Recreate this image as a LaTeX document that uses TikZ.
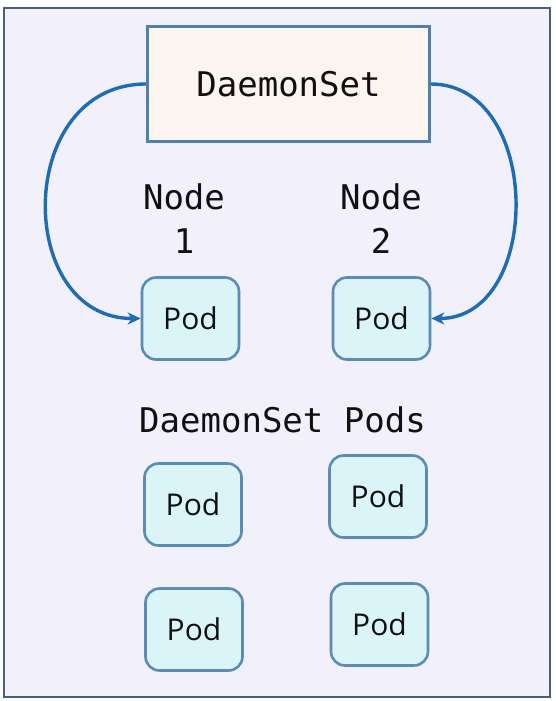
\documentclass[tikz,border=0pt]{standalone}
\usepackage{fontspec}
\usetikzlibrary{arrows.meta}
\newfontfamily\monof{DejaVu Sans Mono}
\newfontfamily\podf{Open Sans}
\definecolor{bgl}{HTML}{F2F1FB}
\definecolor{framec}{HTML}{4E5D72}
\definecolor{dsfill}{HTML}{FBF4EF}
\definecolor{dsborder}{HTML}{4F81B0}
\definecolor{podfill}{HTML}{DAF4F7}
\definecolor{podborder}{HTML}{5A8CB4}
\definecolor{arrowc}{HTML}{1C6DB4}
\definecolor{txt}{HTML}{101010}
\begin{document}
\begin{tikzpicture}[x=1pt,y=-1pt,
  podbox/.style={draw=podborder, line width=2.6pt, fill=podfill, rounded corners=14pt,
    minimum width=97pt, minimum height=82pt, inner sep=0pt, text=txt,
    font=\podf\fontsize{30}{34}\selectfont},
  dsbox/.style={draw=dsborder, line width=2.6pt, fill=dsfill,
    minimum width=282pt, minimum height=115pt, inner sep=0pt, text=txt,
    font=\monof\fontsize{34}{40}\selectfont},
  monolabel/.style={text=txt, align=center, inner sep=0pt,
    font=\monof\fontsize{34}{44}\selectfont},
  curvearrow/.style={draw=arrowc, line width=3.4pt,
    -{Stealth[length=13pt,width=12pt,inset=4pt]}}]
\useasboundingbox (0,0) rectangle (555,701);
\fill[white] (0,0) rectangle (555,701);
\draw[framec, line width=2.6pt, fill=bgl] (4,8) rectangle (550,697);

\node[dsbox] (ds) at (288.5,84) {DaemonSet};

\node[monolabel] (n1) at (184,219) {Node\\1};
\node[monolabel] (n2) at (381,219) {Node\\2};

\node[podbox] (p1) at (190.5,318.5) {Pod};
\node[podbox] (p2) at (381.5,318.5) {Pod};

\draw[curvearrow] (ds.west) .. controls (14,84) and (14,318.5) .. (p1.west);
\draw[curvearrow] (ds.east) .. controls (543,84) and (543,318.5) .. (p2.east);

\node[monolabel, anchor=base] (dsp) at (282.5,432) {DaemonSet Pods};

\node[podbox] (p3) at (193,504.5) {Pod};
\node[podbox] (p4) at (378,496.5) {Pod};
\node[podbox] (p5) at (194,629.5) {Pod};
\node[podbox] (p6) at (379.5,624.5) {Pod};
\end{tikzpicture}
\end{document}
